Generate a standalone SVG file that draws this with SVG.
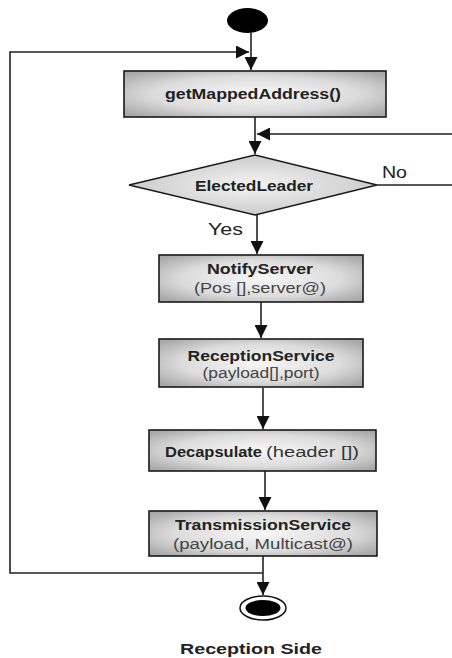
<svg xmlns="http://www.w3.org/2000/svg" width="452" height="658" viewBox="0 0 452 658">
<style>
.box{stroke:#1a1a1a;stroke-width:1.6;fill:url(#boxGrad)}
.dia{stroke:#1a1a1a;stroke-width:1.4;fill:url(#diaGrad)}
.conn{fill:none;stroke:#222;stroke-width:1.6}
.t{font-family:"Liberation Sans",Arial,sans-serif;font-weight:bold;font-size:14px;fill:#222;text-anchor:middle}
.s{font-family:"Liberation Sans",Arial,sans-serif;font-size:14px;fill:#444;text-anchor:middle}
.lbl{font-family:"Liberation Sans",Arial,sans-serif;font-size:16px;fill:#222}
</style>
<defs>
<radialGradient id="boxGrad" cx="50%" cy="50%" r="65%">
<stop offset="0%" stop-color="#f7f7f7"/>
<stop offset="60%" stop-color="#dcdcdc"/>
<stop offset="100%" stop-color="#a8a8a8"/>
</radialGradient>
<radialGradient id="diaGrad" cx="50%" cy="50%" r="60%">
<stop offset="0%" stop-color="#f4f4f4"/>
<stop offset="100%" stop-color="#c4c4c4"/>
</radialGradient>
<marker id="arr" markerUnits="userSpaceOnUse" markerWidth="13" markerHeight="13" refX="12" refY="6" orient="auto" viewBox="0 0 12 12">
<path d="M0,0 L12,6 L0,12 z" fill="#111"/>
</marker>
</defs>
<g id="connectors">
<path class="conn" d="M251,33 V70" marker-end="url(#arr)"/>
<path class="conn" d="M263,573 H10 V52 H249" marker-end="url(#arr)"/>
<path class="conn" d="M255,117 V154" marker-end="url(#arr)"/>
<path class="conn" d="M377,185 H455 V134 H257" marker-end="url(#arr)"/>
<path class="conn" d="M257,215 V254" marker-end="url(#arr)"/>
<path class="conn" d="M261,302 V338" marker-end="url(#arr)"/>
<path class="conn" d="M263,388 V429" marker-end="url(#arr)"/>
<path class="conn" d="M265,471 V510" marker-end="url(#arr)"/>
<path class="conn" d="M263,556 V595" marker-end="url(#arr)"/>
<text class="lbl" x="382" y="178" textLength="25" lengthAdjust="spacingAndGlyphs">No</text>
<text class="lbl" x="208" y="235" textLength="35" lengthAdjust="spacingAndGlyphs">Yes</text>
</g>
<g id="start">
<ellipse cx="247.5" cy="20.5" rx="20.5" ry="12.5" fill="#000"/>
</g>
<g id="getMappedAddress">
<rect class="box" x="124" y="71" width="262" height="46"/>
<text class="t" x="253" y="99" textLength="176" lengthAdjust="spacingAndGlyphs">getMappedAddress()</text>
</g>
<g id="electedLeader">
<polygon class="dia" points="129,185 255,155 377,185 255,215"/>
<text class="t" x="254" y="191" font-size="13" textLength="118" lengthAdjust="spacingAndGlyphs">ElectedLeader</text>
</g>
<g id="notifyServer">
<rect class="box" x="159" y="255" width="204" height="47"/>
<text class="t" x="260" y="274" textLength="106" lengthAdjust="spacingAndGlyphs">NotifyServer</text>
<text class="s" x="260" y="293" textLength="132" lengthAdjust="spacingAndGlyphs">(Pos [],server@)</text>
</g>
<g id="receptionService">
<rect class="box" x="159" y="339" width="204" height="48"/>
<text class="t" x="261" y="361" textLength="147" lengthAdjust="spacingAndGlyphs">ReceptionService</text>
<text class="s" x="261" y="378" textLength="117" lengthAdjust="spacingAndGlyphs">(payload[],port)</text>
</g>
<g id="decapsulate">
<rect class="box" x="149" y="430" width="227" height="41"/>
<text class="t" x="165" y="457" style="text-anchor:start" textLength="97" lengthAdjust="spacingAndGlyphs">Decapsulate</text>
<text class="s" x="266" y="457" font-size="15" style="text-anchor:start;fill:#333" textLength="93" lengthAdjust="spacingAndGlyphs">(header [])</text>
</g>
<g id="transmissionService">
<rect class="box" x="149" y="511" width="228" height="45"/>
<text class="t" x="263" y="530" textLength="176" lengthAdjust="spacingAndGlyphs">TransmissionService</text>
<text class="s" x="263" y="549" textLength="180" lengthAdjust="spacingAndGlyphs">(payload, Multicast@)</text>
</g>
<g id="end">
<ellipse cx="263" cy="608" rx="23" ry="12" fill="#fff" stroke="#111" stroke-width="1.5"/>
<ellipse cx="263" cy="608" rx="17.5" ry="8" fill="#000"/>
</g>
<g id="caption">
<text class="t" x="251" y="654" font-size="15" textLength="142" lengthAdjust="spacingAndGlyphs">Reception Side</text>
</g>
</svg>
